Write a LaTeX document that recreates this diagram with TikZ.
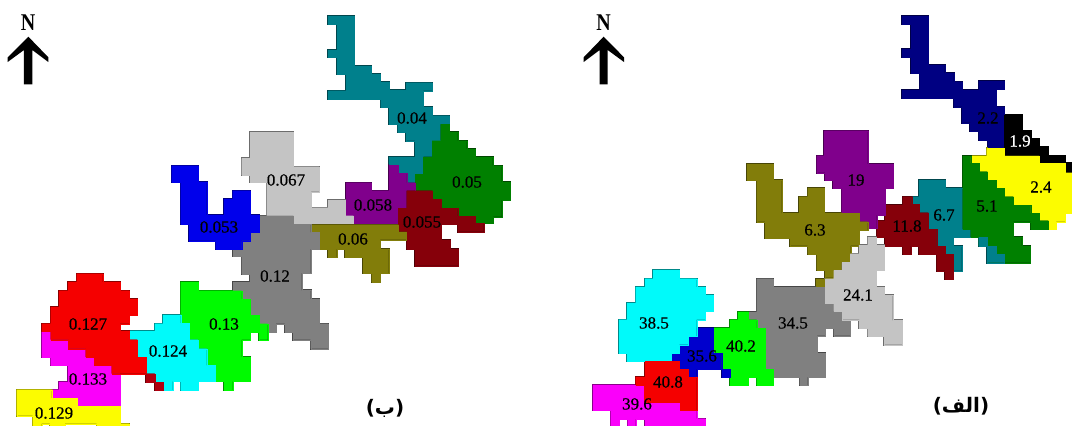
\documentclass[tikz,border=0pt]{standalone}
\usepackage{graphicx}
\usepackage{fontspec}
\setmainfont{Liberation Serif}
\newfontfamily\valfont[FakeBold=0.5]{Liberation Serif}
\newfontfamily\arabicfont[Script=Arabic]{DejaVu Sans}
\TeXXeTstate=1
\definecolor{cteal}{RGB}{0,128,140}
\definecolor{cgreen}{RGB}{0,128,0}
\definecolor{cpurple}{RGB}{128,0,140}
\definecolor{cmaroon}{RGB}{134,0,10}
\definecolor{colive}{RGB}{130,125,10}
\definecolor{clight}{RGB}{196,196,196}
\definecolor{cblue}{RGB}{0,0,235}
\definecolor{cnavy}{RGB}{0,0,130}
\definecolor{cmid}{RGB}{128,128,128}
\definecolor{clime}{RGB}{0,250,0}
\definecolor{ccyan}{RGB}{0,250,250}
\definecolor{cred}{RGB}{245,0,0}
\definecolor{cmag}{RGB}{250,0,250}
\definecolor{cyel}{RGB}{252,252,0}
\definecolor{cdkb}{RGB}{0,0,205}
\definecolor{cblk}{RGB}{0,0,0}
\definecolor{cdr}{RGB}{175,0,15}
\tikzset{
 val/.style={font=\fontsize{17}{17}\selectfont\valfont,inner sep=0pt,text=black},
 northmark/.style={font=\fontsize{20}{20}\selectfont\bfseries,inner sep=0pt},
 captext/.style={font=\fontsize{20}{20}\selectfont\arabicfont\bfseries,inner sep=0pt}
}
\newcommand\allregs{%
% ---- left map
\reg{cteal}{270}{0}{(175,48) (252,48) (252,198) (303,198) (303,222) (330,222) (330,247) (358,247) (358,270) (408,270) (408,248) (486,248) (486,272) (460,272) (460,322) (486,322) (486,347) (538,347) (538,372) (512,372) (512,420) (486,420) (486,470) (460,470) (460,522) (435,522) (435,548) (410,548) (410,520) (385,520) (385,495) (358,495) (358,472) (435,472) (435,422) (408,422) (408,397) (383,397) (383,372) (358,372) (358,322) (332,322) (332,297) (175,297) (175,272) (228,272) (228,222) (202,222) (202,172) (175,172) (175,150) (202,150) (202,72) (175,72)}
\reg{cgreen}{270}{0}{(538,372) (538,397) (563,397) (563,422) (590,422) (590,447) (615,447) (615,472) (668,472) (668,497) (695,497) (695,547) (720,547) (720,600) (695,600) (695,650) (669,650) (669,670) (615,670) (615,648) (563,648) (563,625) (513,625) (513,598) (487,598) (487,572) (435,572) (435,522) (460,522) (460,472) (486,472) (486,422) (512,422) (512,372)}
\reg{cpurple}{335}{140}{(163,75) (190,75) (190,100) (215,100) (215,128) (240,128) (240,152) (215,152) (215,205) (190,205) (190,250) (58,250) (58,228) (33,228) (33,128) (108,128) (108,152) (163,152)}
\reg{cmaroon}{335}{140}{(240,152) (292,152) (292,178) (318,178) (318,205) (368,205) (368,228) (420,228) (420,250) (446,250) (446,275) (368,275) (368,252) (318,252) (318,300) (345,300) (345,327) (370,327) (370,377) (240,377) (240,327) (215,327) (215,275) (190,275) (190,205) (215,205) (215,152)}
\reg{clight}{165}{125}{(255,22) (255,100) (230,100) (230,150) (255,150) (255,172) (305,172) (305,275) (385,275) (385,295) (565,295) (565,272) (540,272) (540,225) (490,225) (490,248) (438,248) (438,200) (462,200) (462,125) (385,125) (385,22)}
\reg{colive}{270}{213}{(122,35) (385,35) (385,58) (408,58) (408,80) (330,80) (330,108) (356,108) (356,180) (330,180) (330,207) (305,207) (305,180) (280,180) (280,132) (226,132) (226,108) (200,108) (200,132) (175,132) (175,108) (148,108) (148,58) (122,58)}
\reg{cmid}{0}{213}{(777,8) (880,8) (880,33) (932,33) (932,58) (958,58) (958,108) (932,108) (932,180) (905,180) (905,232) (932,232) (932,258) (958,258) (958,332) (985,332) (985,407) (932,407) (932,380) (880,380) (880,357) (855,357) (855,332) (828,332) (828,357) (805,357) (805,330) (778,330) (778,307) (750,307) (750,258) (725,258) (725,232) (700,232) (700,207) (750,207) (750,183) (725,183) (725,130) (700,130) (700,110) (725,110) (725,83) (750,83) (750,58) (777,58)}
\reg{cblue}{165}{125}{(20,122) (100,122) (100,172) (125,172) (125,270) (178,270) (178,222) (203,222) (203,197) (255,197) (255,270) (282,270) (282,322) (255,322) (255,347) (230,347) (230,372) (152,372) (152,347) (73,347) (73,297) (47,297) (47,172) (20,172)}
\reg{clime}{0}{213}{(542,207) (594,207) (594,233) (725,233) (725,258) (750,258) (750,307) (777,307) (777,332) (803,332) (803,380) (777,380) (777,357) (750,357) (750,380) (725,380) (725,432) (750,432) (750,505) (698,505) (698,532) (673,532) (673,505) (645,505) (645,457) (620,457) (620,407) (594,407) (594,380) (568,380) (568,330) (542,330)}
\reg{ccyan}{0}{213}{(490,307) (542,307) (542,330) (568,330) (568,380) (594,380) (594,407) (620,407) (620,457) (645,457) (645,505) (594,505) (594,532) (542,532) (542,505) (518,505) (518,532) (490,532) (490,505) (465,505) (465,482) (438,482) (438,432) (412,432) (412,380) (388,380) (388,355) (465,355) (465,332) (490,332)}
\reg{cmag}{0}{213}{(126,355) (152,355) (152,380) (205,380) (205,407) (257,407) (257,432) (283,432) (283,457) (335,457) (335,482) (360,482) (360,580) (232,580) (232,555) (155,555) (155,530) (178,530) (178,507) (205,507) (205,457) (152,457) (152,432) (126,432)}
\reg{cred}{0}{213}{(230,182) (308,182) (308,207) (360,207) (360,233) (387,233) (387,258) (412,258) (412,307) (387,307) (387,332) (360,332) (360,355) (387,355) (387,380) (412,380) (412,432) (438,432) (438,482) (335,482) (335,457) (283,457) (283,432) (257,432) (257,407) (205,407) (205,380) (152,380) (152,355) (126,355) (126,332) (152,332) (152,283) (178,283) (178,233) (205,233) (205,207) (230,207)}
\reg{cdr}{0}{213}{(438,482) (465,482) (465,507) (490,507) (490,532) (465,532) (465,507) (438,507)}
\reg{cyel}{0}{213}{(50,530) (155,530) (155,555) (232,555) (232,580) (360,580) (360,632) (387,632) (387,640) (290,640) (290,632) (195,632) (195,640) (150,640) (150,632) (125,632) (125,640) (98,640) (98,608) (50,608)}
% ---- right map
\reg{cnavy}{802}{0}{(300,48) (378,48) (378,196) (428,196) (428,220) (455,220) (455,245) (480,245) (480,270) (530,270) (530,243) (607,243) (607,268) (582,268) (582,320) (607,320) (607,442) (557,442) (557,420) (530,420) (530,392) (505,392) (505,368) (480,368) (480,320) (455,320) (455,295) (300,295) (300,270) (353,270) (353,220) (327,220) (327,172) (300,172) (300,147) (327,147) (327,72) (300,72)}
\reg{cblk}{802}{0}{(607,345) (660,345) (660,392) (686,392) (686,417) (712,417) (712,442) (737,442) (737,467) (790,467) (790,490) (810,490) (810,517) (790,517) (790,492) (712,492) (712,467) (607,467)}
\reg{cyel}{880}{130}{(272,78) (320,78) (320,55) (372,55) (372,78) (478,78) (478,100) (555,100) (555,128) (576,128) (576,250) (555,250) (555,275) (528,275) (528,298) (505,298) (505,272) (478,272) (478,250) (452,250) (452,225) (400,225) (400,200) (372,200) (372,175) (348,175) (348,150) (322,150) (322,125) (298,125) (298,100) (272,100)}
\reg{cteal}{880}{130}{(118,150) (195,150) (195,175) (248,175) (248,298) (272,298) (272,322) (220,322) (220,348) (245,348) (245,422) (220,422) (220,372) (195,372) (195,348) (170,348) (170,298) (145,298) (145,248) (118,248) (118,222) (95,222) (95,200) (118,200)}
\reg{cgreen}{880}{130}{(248,78) (272,78) (272,100) (298,100) (298,125) (322,125) (322,150) (348,150) (348,175) (372,175) (372,200) (400,200) (400,225) (452,225) (452,250) (478,250) (478,272) (505,272) (505,298) (452,298) (452,275) (400,275) (400,322) (425,322) (425,348) (450,348) (450,398) (322,398) (322,348) (296,348) (296,322) (272,322) (272,298) (248,298)}
\reg{cteal}{880}{130}{(296,322) (322,322) (322,348) (348,348) (348,372) (372,372) (372,398) (322,398) (322,348) (296,348)}
\reg{cmaroon}{880}{130}{(68,200) (95,200) (95,222) (118,222) (118,248) (145,248) (145,298) (170,298) (170,348) (195,348) (195,372) (220,372) (220,447) (195,447) (195,422) (170,422) (170,372) (118,372) (118,348) (92,348) (92,372) (68,372) (68,348) (15,348) (15,322) (-10,322) (-10,272) (15,272) (15,225) (68,225)}
\reg{cpurple}{740}{125}{(253,17) (383,17) (383,117) (460,117) (460,190) (435,190) (435,270) (410,270) (410,310) (383,310) (383,290) (358,290) (358,265) (305,265) (305,190) (280,190) (280,165) (255,165) (255,143) (230,143) (230,92) (253,92)}
\reg{colive}{740}{125}{(22,117) (100,117) (100,165) (125,165) (125,265) (178,265) (178,215) (203,215) (203,190) (253,190) (253,265) (358,265) (358,290) (383,290) (383,315) (358,315) (358,362) (332,362) (332,412) (305,412) (305,435) (280,435) (280,458) (255,458) (255,435) (230,435) (230,388) (203,388) (203,362) (150,362) (150,340) (75,340) (75,290) (50,290) (50,165) (22,165)}
\reg{colive}{802}{213}{(43,197) (68,197) (68,222) (43,222)}
\reg{cmid}{570}{213}{(560,197) (610,197) (610,222) (765,222) (765,247) (791,247) (791,295) (816,295) (816,320) (841,320) (841,368) (791,368) (791,345) (766,345) (766,368) (741,368) (741,420) (766,420) (766,492) (713,492) (713,517) (689,517) (689,492) (610,492) (610,468) (585,468) (585,345) (560,345) (560,320) (535,320) (535,297) (560,297)}
\reg{clight}{802}{213}{(197,72) (222,72) (222,97) (247,97) (247,172) (222,172) (222,222) (247,222) (247,247) (272,247) (272,322) (300,322) (300,395) (247,395) (247,370) (197,370) (197,345) (172,345) (172,320) (120,320) (120,295) (95,295) (95,270) (70,270) (70,197) (95,197) (95,172) (120,172) (120,147) (145,147) (145,122) (172,122) (172,97) (197,97)}
\reg{clime}{570}{213}{(505,297) (535,297) (535,320) (560,320) (560,345) (585,345) (585,468) (610,468) (610,517) (560,517) (560,492) (535,492) (535,517) (480,517) (480,468) (455,468) (455,420) (430,420) (430,345) (480,345) (480,320) (505,320)}
\reg{cdkb}{570}{213}{(380,345) (430,345) (430,420) (455,420) (455,468) (380,468) (380,492) (355,492) (355,468) (328,468) (328,445) (303,445) (303,420) (328,420) (328,395) (355,395) (355,370) (380,370)}
\reg{cdkb}{570}{213}{(455,468) (480,468) (480,492) (455,492)}
\reg{ccyan}{570}{213}{(250,172) (327,172) (327,197) (380,197) (380,222) (405,222) (405,247) (430,247) (430,295) (405,295) (405,320) (380,320) (380,370) (355,370) (355,395) (328,395) (328,420) (303,420) (303,445) (172,445) (172,420) (147,420) (147,320) (172,320) (172,270) (197,270) (197,222) (225,222) (225,197) (250,197)}
\reg{cmag}{570}{213}{(70,517) (222,517) (222,568) (330,568) (330,592) (380,592) (380,617) (405,617) (405,640) (225,640) (225,618) (197,618) (197,640) (173,640) (173,618) (147,618) (147,640) (122,640) (122,592) (70,592)}
\reg{cred}{570}{213}{(225,445) (328,445) (328,468) (355,468) (355,492) (380,492) (380,592) (330,592) (330,568) (222,568) (222,517) (197,517) (197,492) (225,492)}
}
\begin{document}
\begin{tikzpicture}[x=1pt,y=-1pt]
\useasboundingbox (0,0) rectangle (1072,426);
\begin{scope}
\clip (0,0) rectangle (1072,426);
\def\reg#1#2#3#4{\draw[#1!55!black,line width=2.2pt,shift={(#2,#3)},scale=1/3,line join=miter] plot coordinates {#4} -- cycle;}
\allregs
\def\reg#1#2#3#4{\filldraw[#1,line width=.2pt,shift={(#2,#3)},scale=1/3] plot coordinates {#4} -- cycle;}
\allregs
\end{scope}
% north arrows
\fill[black,shift={(0,0)},scale=1/3] (85,110) -- (145,172) -- (145,186) -- (97,150) -- (97,253) -- (72,253) -- (72,150) -- (23,186) -- (23,172) -- cycle;
\fill[black,shift={(570,0)},scale=1/3] (101,110) -- (162,172) -- (162,186) -- (113,150) -- (113,253) -- (89,253) -- (89,150) -- (41,186) -- (41,172) -- cycle;
\node[northmark] (nleft) at (28,22.5) {\scalebox{1}[1.2]{N}};
\node[northmark] (nright) at (603.5,22.5) {\scalebox{1}[1.2]{N}};
% left values
\node[val] (a1) at (412,118) {0.04};
\node[val] (a2) at (467,182) {0.05};
\node[val] (a3) at (286,180) {0.067};
\node[val] (a4) at (219,227) {0.053};
\node[val] (a5) at (373,205) {0.058};
\node[val] (a6) at (422,222) {0.055};
\node[val] (a7) at (353,239) {0.06};
\node[val] (a8) at (275,276) {0.12};
\node[val] (a9) at (88,324) {0.127};
\node[val] (a10) at (224,324) {0.13};
\node[val] (a11) at (168,351) {0.124};
\node[val] (a12) at (88,379) {0.133};
\node[val] (a13) at (54,413) {0.129};
% right values
\node[val] (b1) at (988,118) {2.2};
\node[val,text=white] (b2) at (1020,141) {1.9};
\node[val] (b3) at (1041,187) {2.4};
\node[val] (b4) at (856,180) {19};
\node[val] (b5) at (815,230) {6.3};
\node[val] (b6) at (907,226) {11.8};
\node[val] (b7) at (944,215) {6.7};
\node[val] (b8) at (987,206) {5.1};
\node[val] (b9) at (858,295) {24.1};
\node[val] (b10) at (793,323) {34.5};
\node[val] (b11) at (654,323) {38.5};
\node[val] (b12) at (741,346) {40.2};
\node[val] (b13) at (702,356) {35.6};
\node[val] (b14) at (668,382) {40.8};
\node[val] (b15) at (637,404) {39.6};
% captions
\node[captext] (capb) at (385,408) {\beginR(ب)\endR};
\node[captext] (capa) at (961,406) {\beginR(الف)\endR};
\end{tikzpicture}
\end{document}
